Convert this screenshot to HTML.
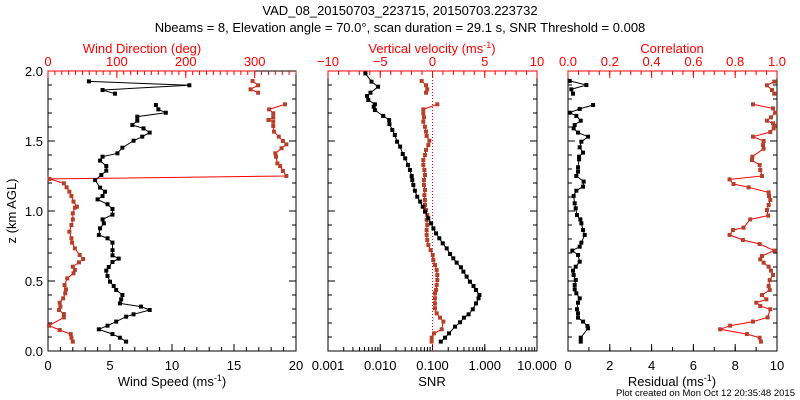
<!DOCTYPE html>
<html><head><meta charset="utf-8"><style>
html,body{margin:0;padding:0;background:#fff;}
svg{display:block;font-family:"Liberation Sans",sans-serif;}
</style></head><body>
<svg id="c" width="800" height="400" viewBox="0 0 800 400" xmlns="http://www.w3.org/2000/svg">
<text x="400" y="15" text-anchor="middle" font-size="13">VAD_08_20150703_223715, 20150703.223732</text>
<text x="400" y="32" text-anchor="middle" font-size="13">Nbeams = 8, Elevation angle = 70.0°, scan duration = 29.1 s, SNR Threshold = 0.008</text>
<text x="16" y="211" text-anchor="middle" font-size="13" transform="rotate(-90 16 211)">z (km AGL)</text>
<text x="795" y="396" text-anchor="end" font-size="9.5">Plot created on Mon Oct 12 20:35:48 2015</text>
<g id="g"></g>
</svg>
<script>
// Wind speed (black, panel 1)
const wsZ=[0.067,0.095,0.121,0.155,0.181,0.21,0.245,0.262,0.293,0.317,0.34,0.369,0.40,0.436,0.464,0.495,0.536,0.574,0.60,0.636,0.66,0.683,0.72,0.774,0.805,0.829,0.876,0.912,0.94,0.974,1.014,1.048,1.083,1.107,1.138,1.167,1.221,1.257,1.288,1.321,1.36,1.388,1.412,1.452,1.502,1.531,1.56,1.59,1.614,1.645,1.674,1.702,1.726,1.757,null,1.838,1.864,1.898,1.926];
const wsV=[6.3,5.8,5.2,4.1,4.8,5.5,6.3,6.9,8.2,7.5,5.8,5.9,6.0,5.5,5.3,5.0,4.8,4.7,4.9,5.2,5.7,5.2,5.2,5.2,4.8,4.1,4.2,4.5,4.4,5.2,5.2,4.8,4.0,4.4,4.6,4.2,3.8,4.3,4.7,4.7,4.2,4.4,5.6,6.0,6.9,7.6,8.2,7.7,6.8,7.2,7.2,9.5,8.9,8.7,null,5.4,4.4,11.4,3.3];
// Wind direction (panel 1, top axis)
const wdZ=[0.067,0.095,0.121,0.150,0.181,0.240,0.264,0.293,0.317,0.345,0.376,0.412,0.440,0.471,0.519,0.555,0.579,0.602,0.633,0.657,0.686,0.733,0.774,0.805,0.852,0.9,0.940,0.983,1.024,1.031,1.067,1.107,1.138,1.169,1.198,1.229,1.25,1.286,1.321,1.34,1.388,1.412,1.448,1.476,1.5,1.531,1.567,1.607,1.638,1.65,1.669,1.698,1.726,1.762,null,1.845,1.869,1.898,1.929];
const wdV=[36,34,33,17,1.5,23,23,16,18,17,22,25,26,24,28,37,39,36,45,51,46,39,35,34,31,34,36,36,39,42,37,34,31,27,23,2,346,341,337,333,331,330,339,346,341,335,328,327,327,320,327,327,321,344,null,305,294,305,297];
// SNR (black, panel 2, log bottom axis)
const snrZ=[0.067,0.095,0.126,0.174,0.205,0.238,0.262,0.298,0.340,0.376,0.400,0.436,0.464,0.495,0.531,0.567,0.598,0.631,0.662,0.693,0.733,0.769,0.805,0.840,0.876,0.912,0.948,0.995,1.031,1.067,1.102,1.145,1.186,1.221,1.25,1.293,1.329,1.376,1.407,1.460,1.495,1.543,1.579,1.621,1.650,1.679,1.721,1.745,1.762,1.793,1.821,1.845,1.888,1.924,1.983];
const snrV=[0.144,0.174,0.207,0.27,0.337,0.40,0.49,0.59,0.68,0.76,0.79,0.68,0.61,0.52,0.45,0.39,0.35,0.29,0.25,0.217,0.187,0.157,0.135,0.117,0.104,0.094,0.083,0.072,0.065,0.058,0.051,0.046,0.043,0.041,0.040,0.037,0.034,0.030,0.027,0.024,0.021,0.019,0.017,0.015,0.0148,0.0114,0.0079,0.0075,0.0079,0.0059,0.0056,0.0065,0.0091,0.0068,0.0052];
// Vertical velocity (panel 2, top axis)
const wZ=[0.067,0.095,0.126,0.155,0.21,0.238,0.269,0.305,0.340,0.376,0.412,0.436,0.471,0.507,0.543,0.579,0.614,0.650,0.686,0.721,0.757,0.793,0.829,0.864,0.9,0.936,0.971,1.007,1.043,1.079,1.114,1.15,1.186,1.221,1.257,1.293,1.329,1.364,1.4,1.436,1.471,1.502,1.536,1.567,1.602,1.638,1.669,1.698,1.726,1.762,null,1.845,1.869,1.898,1.929];
const wV=[-0.08,-0.08,0.14,0.88,1.04,0.72,0.4,0.24,0.24,0.24,0.24,0.34,0.4,0.46,0.46,0.4,0.24,0.08,0.02,-0.18,-0.4,-0.5,-0.56,-0.56,-0.5,-0.56,-0.5,-0.62,-0.72,-0.72,-0.78,-0.72,-0.82,-0.82,-0.72,-0.78,-0.88,-0.88,-0.72,-0.62,-0.4,-0.3,-0.56,-0.62,-0.72,-0.88,-0.82,-0.88,-0.88,0.46,null,-0.62,-0.5,-0.62,-1.04];
// Residual (black, panel 3 bottom)
const resZ=[0.067,0.095,0.162,0.179,0.210,0.238,0.269,0.298,0.345,0.376,0.412,0.440,0.471,0.507,0.543,0.574,0.602,0.638,0.686,0.717,0.745,0.774,0.829,0.864,0.912,0.940,0.971,1.019,1.055,1.107,1.145,1.174,1.21,1.25,1.281,1.312,1.369,1.388,1.417,1.455,1.495,1.531,1.56,1.590,1.614,1.645,1.679,1.702,1.729,1.757,null,1.838,1.869,1.9,1.929];
const resV=[0.61,0.61,0.96,0.93,0.72,0.48,0.48,0.43,0.48,0.56,0.40,0.32,0.32,0.37,0.27,0.24,0.37,0.56,0.48,0.21,0.56,0.64,0.80,0.72,0.64,0.59,0.43,0.37,0.32,0.27,0.40,0.72,0.75,0.40,0.48,0.48,0.53,0.53,0.72,0.56,0.64,0.96,0.48,0.27,0.32,0.61,0.40,0.08,0.56,1.2,null,0.24,0.16,0.88,0.08];
// Correlation (panel 3 top)
const corZ=[0.067,0.095,0.121,0.155,0.181,0.210,0.240,0.298,0.321,0.345,0.369,0.400,0.436,0.464,0.507,0.543,0.574,0.602,0.631,0.655,0.679,0.717,0.764,0.793,0.829,0.864,0.881,0.940,0.967,1.007,1.043,1.079,1.107,1.133,1.169,1.193,1.226,1.25,1.293,1.329,1.364,1.388,1.445,1.471,1.5,1.531,1.564,1.590,1.61,1.626,1.645,1.669,1.702,1.733,1.762,null,1.838,1.864,1.898,1.924];
const corV=[0.923,0.917,0.856,0.728,0.776,0.885,0.955,0.968,0.92,0.901,0.949,0.928,0.965,0.96,0.965,0.981,0.971,0.96,0.936,0.92,0.928,0.987,0.917,0.837,0.773,0.789,0.84,0.872,0.958,0.952,0.96,0.968,0.962,0.96,0.864,0.792,0.773,0.928,0.92,0.917,0.88,0.882,0.936,0.933,0.936,0.885,0.968,0.984,0.987,0.981,0.952,0.971,0.992,0.981,0.885,null,0.987,0.976,0.952,0.987];

const yTicks=[0,0.5,1,1.5,2];
const yTickLabels=["0.0","0.5","1.0","1.5","2.0"];
const wsTicks=[0,5,10,15,20], wdTicks=[0,100,200,300];
const snrTicks=[0.001,0.01,0.1,1,10], snrTickLabels=["0.001","0.010","0.100","1.000","10.000"];
const wTicks=[-10,-5,0,5,10];
const resTicks=[0,2,4,6,8,10], corTicks=[0,0.2,0.4,0.6,0.8,1.0];

const NS="http://www.w3.org/2000/svg";
const G=document.getElementById('g');
const RED="#ff0000", BR="#b5402a";
const T=71,B=351;
const yS=z=>B-(z/2)*(B-T);
function mk(tag,at,par){const e=document.createElementNS(NS,tag);for(const k in at)e.setAttribute(k,at[k]);(par||G).appendChild(e);return e;}
function lin(a,b,x0,x1){return v=>x0+(v-a)/(b-a)*(x1-x0);}
function logS(a,b,x0,x1){return v=>x0+(Math.log10(v)-Math.log10(a))/(Math.log10(b)-Math.log10(a))*(x1-x0);}

function frame(x0,x1,name){
  const r=mk('rect',{x:x0,y:T,width:x1-x0,height:B-T,fill:'none',stroke:'#000','stroke-width':1});
  
  
  // y ticks
  for(let i=0;i<=20;i++){const z=i*0.1,y=yS(z),L=(i%5==0)?7:4;
    mk('line',{x1:x0,x2:x0+L,y1:y,y2:y,stroke:'#000'});
    mk('line',{x1:x1,x2:x1-L,y1:y,y2:y,stroke:'#000'});}
}
function xTicksBottom(sc,major,minor,x0){
  minor.forEach(v=>mk('line',{x1:sc(v),x2:sc(v),y1:B,y2:B-4,stroke:'#000'}));
  major.forEach(v=>mk('line',{x1:sc(v),x2:sc(v),y1:B,y2:B-7,stroke:'#000'}));
}
function xTicksTop(sc,major,minor){
  mk('line',{x1:sc(major[0]),x2:sc(major[major.length-1]),y1:T,y2:T,stroke:RED});
  minor.forEach(v=>mk('line',{x1:sc(v),x2:sc(v),y1:T,y2:T+4,stroke:RED}));
  major.forEach(v=>mk('line',{x1:sc(v),x2:sc(v),y1:T,y2:T+7,stroke:RED}));
}
function labels(sc,vals,txt,y,col,name){
  vals.forEach((v,i)=>{const t=mk('text',{x:sc(v),y:y,'text-anchor':'middle','font-size':13,fill:col});t.textContent=txt[i];
    
    });
}
function series(zs,vs,xs,lineCol,mCol,name){
  const g=mk('g',{});
  
  
  let d='',pen=false;
  for(let i=0;i<zs.length;i++){
    if(zs[i]===null||vs[i]===null){pen=false;continue;}
    const x=xs(vs[i]),y=yS(zs[i]);d+=(pen?'L':'M')+x.toFixed(1)+' '+y.toFixed(1);pen=true;}
  mk('path',{d:d,fill:'none',stroke:lineCol,'stroke-width':1},g);
  for(let i=0;i<zs.length;i++){if(zs[i]===null||vs[i]===null)continue;
    const x=xs(vs[i]),y=yS(zs[i]);
    const p=mk('rect',{x:x-2,y:y-2,width:4,height:4,fill:mCol},g);
    
    }
}
function title(x,y,txt,col,name,sup){
  const t=mk('text',{x:x,y:y,'text-anchor':'middle','font-size':13,fill:col});
  
  
  if(sup){t.appendChild(document.createTextNode(txt));const s=mk('tspan',{'font-size':9,dy:-5},t);s.textContent='-1';const e=mk('tspan',{dy:5},t);e.textContent=')';}
  else t.textContent=txt;
}
const rng=(a,b,s)=>{const r=[];for(let v=a;v<=b+1e-9;v+=s)r.push(+v.toFixed(6));return r;};

// Panel 1
const p1x0=48,p1x1=296;
const xWS=lin(0,20,p1x0,p1x1), xWD=lin(0,360,p1x0,p1x1);
frame(p1x0,p1x1,'wind-panel');
xTicksBottom(xWS,wsTicks,rng(0,20,1));
xTicksTop(xWD,wdTicks.concat([360]).slice(0,4),rng(0,360,10));
yTicks.forEach((z,i)=>{const t=mk('text',{x:43,y:yS(z)+5,'text-anchor':'end','font-size':13});t.textContent=yTickLabels[i];
  
  });
labels(xWS,wsTicks,wsTicks.map(String),370,'#000','wind-speed-tick');
labels(xWD,wdTicks,wdTicks.map(String),66,RED,'wind-dir-tick');
title(172,386,'Wind Speed (ms','#000','wind-speed-axis-title',true);
title(142,53,'Wind Direction (deg)',RED,'wind-dir-axis-title',false);
series(wdZ,wdV,xWD,RED,BR,'wind-direction-series');
series(wsZ,wsV,xWS,'#000','#000','wind-speed-series');

// Panel 2
const p2x0=328,p2x1=537;
const xSNR=logS(0.001,10,p2x0,p2x1), xW=lin(-10,10,p2x0,p2x1);
frame(p2x0,p2x1,'snr-panel');
const snrMinor=[];for(let e=-3;e<1;e++)for(let k=1;k<10;k++)snrMinor.push(k*Math.pow(10,e));
xTicksBottom(xSNR,snrTicks,snrMinor);
xTicksTop(xW,wTicks,rng(-10,10,1));
labels(xSNR,snrTicks,snrTickLabels,370,'#000','snr-tick');
labels(xW,wTicks,wTicks.map(v=>v<0?'\u2212'+(-v):String(v)),66,RED,'w-tick');
title(432,386,'SNR','#000','snr-axis-title',false);
title(432,53,'Vertical velocity (ms',RED,'w-axis-title',true);
const zl=mk('line',{x1:xW(0),x2:xW(0),y1:T,y2:B,stroke:RED,'stroke-dasharray':'1,2'});


series(wZ,wV,xW,RED,BR,'vertical-velocity-series');
series(snrZ,snrV,xSNR,'#000','#000','snr-series');

// Panel 3
const p3x0=568,p3x1=777;
const xR=lin(0,10,p3x0,p3x1), xC=lin(0,1,p3x0,p3x1);
frame(p3x0,p3x1,'residual-panel');
xTicksBottom(xR,resTicks,rng(0,10,1));
xTicksTop(xC,corTicks,rng(0,1,0.05));
labels(xR,resTicks,resTicks.map(String),370,'#000','residual-tick');
labels(xC,corTicks,corTicks.map(v=>v.toFixed(1)),66,RED,'corr-tick');
title(672,386,'Residual (ms','#000','residual-axis-title',true);
title(672,53,'Correlation',RED,'corr-axis-title',false);
series(corZ,corV,xC,RED,BR,'correlation-series');
series(resZ,resV,xR,'#000','#000','residual-series');
</script>
</body></html>
